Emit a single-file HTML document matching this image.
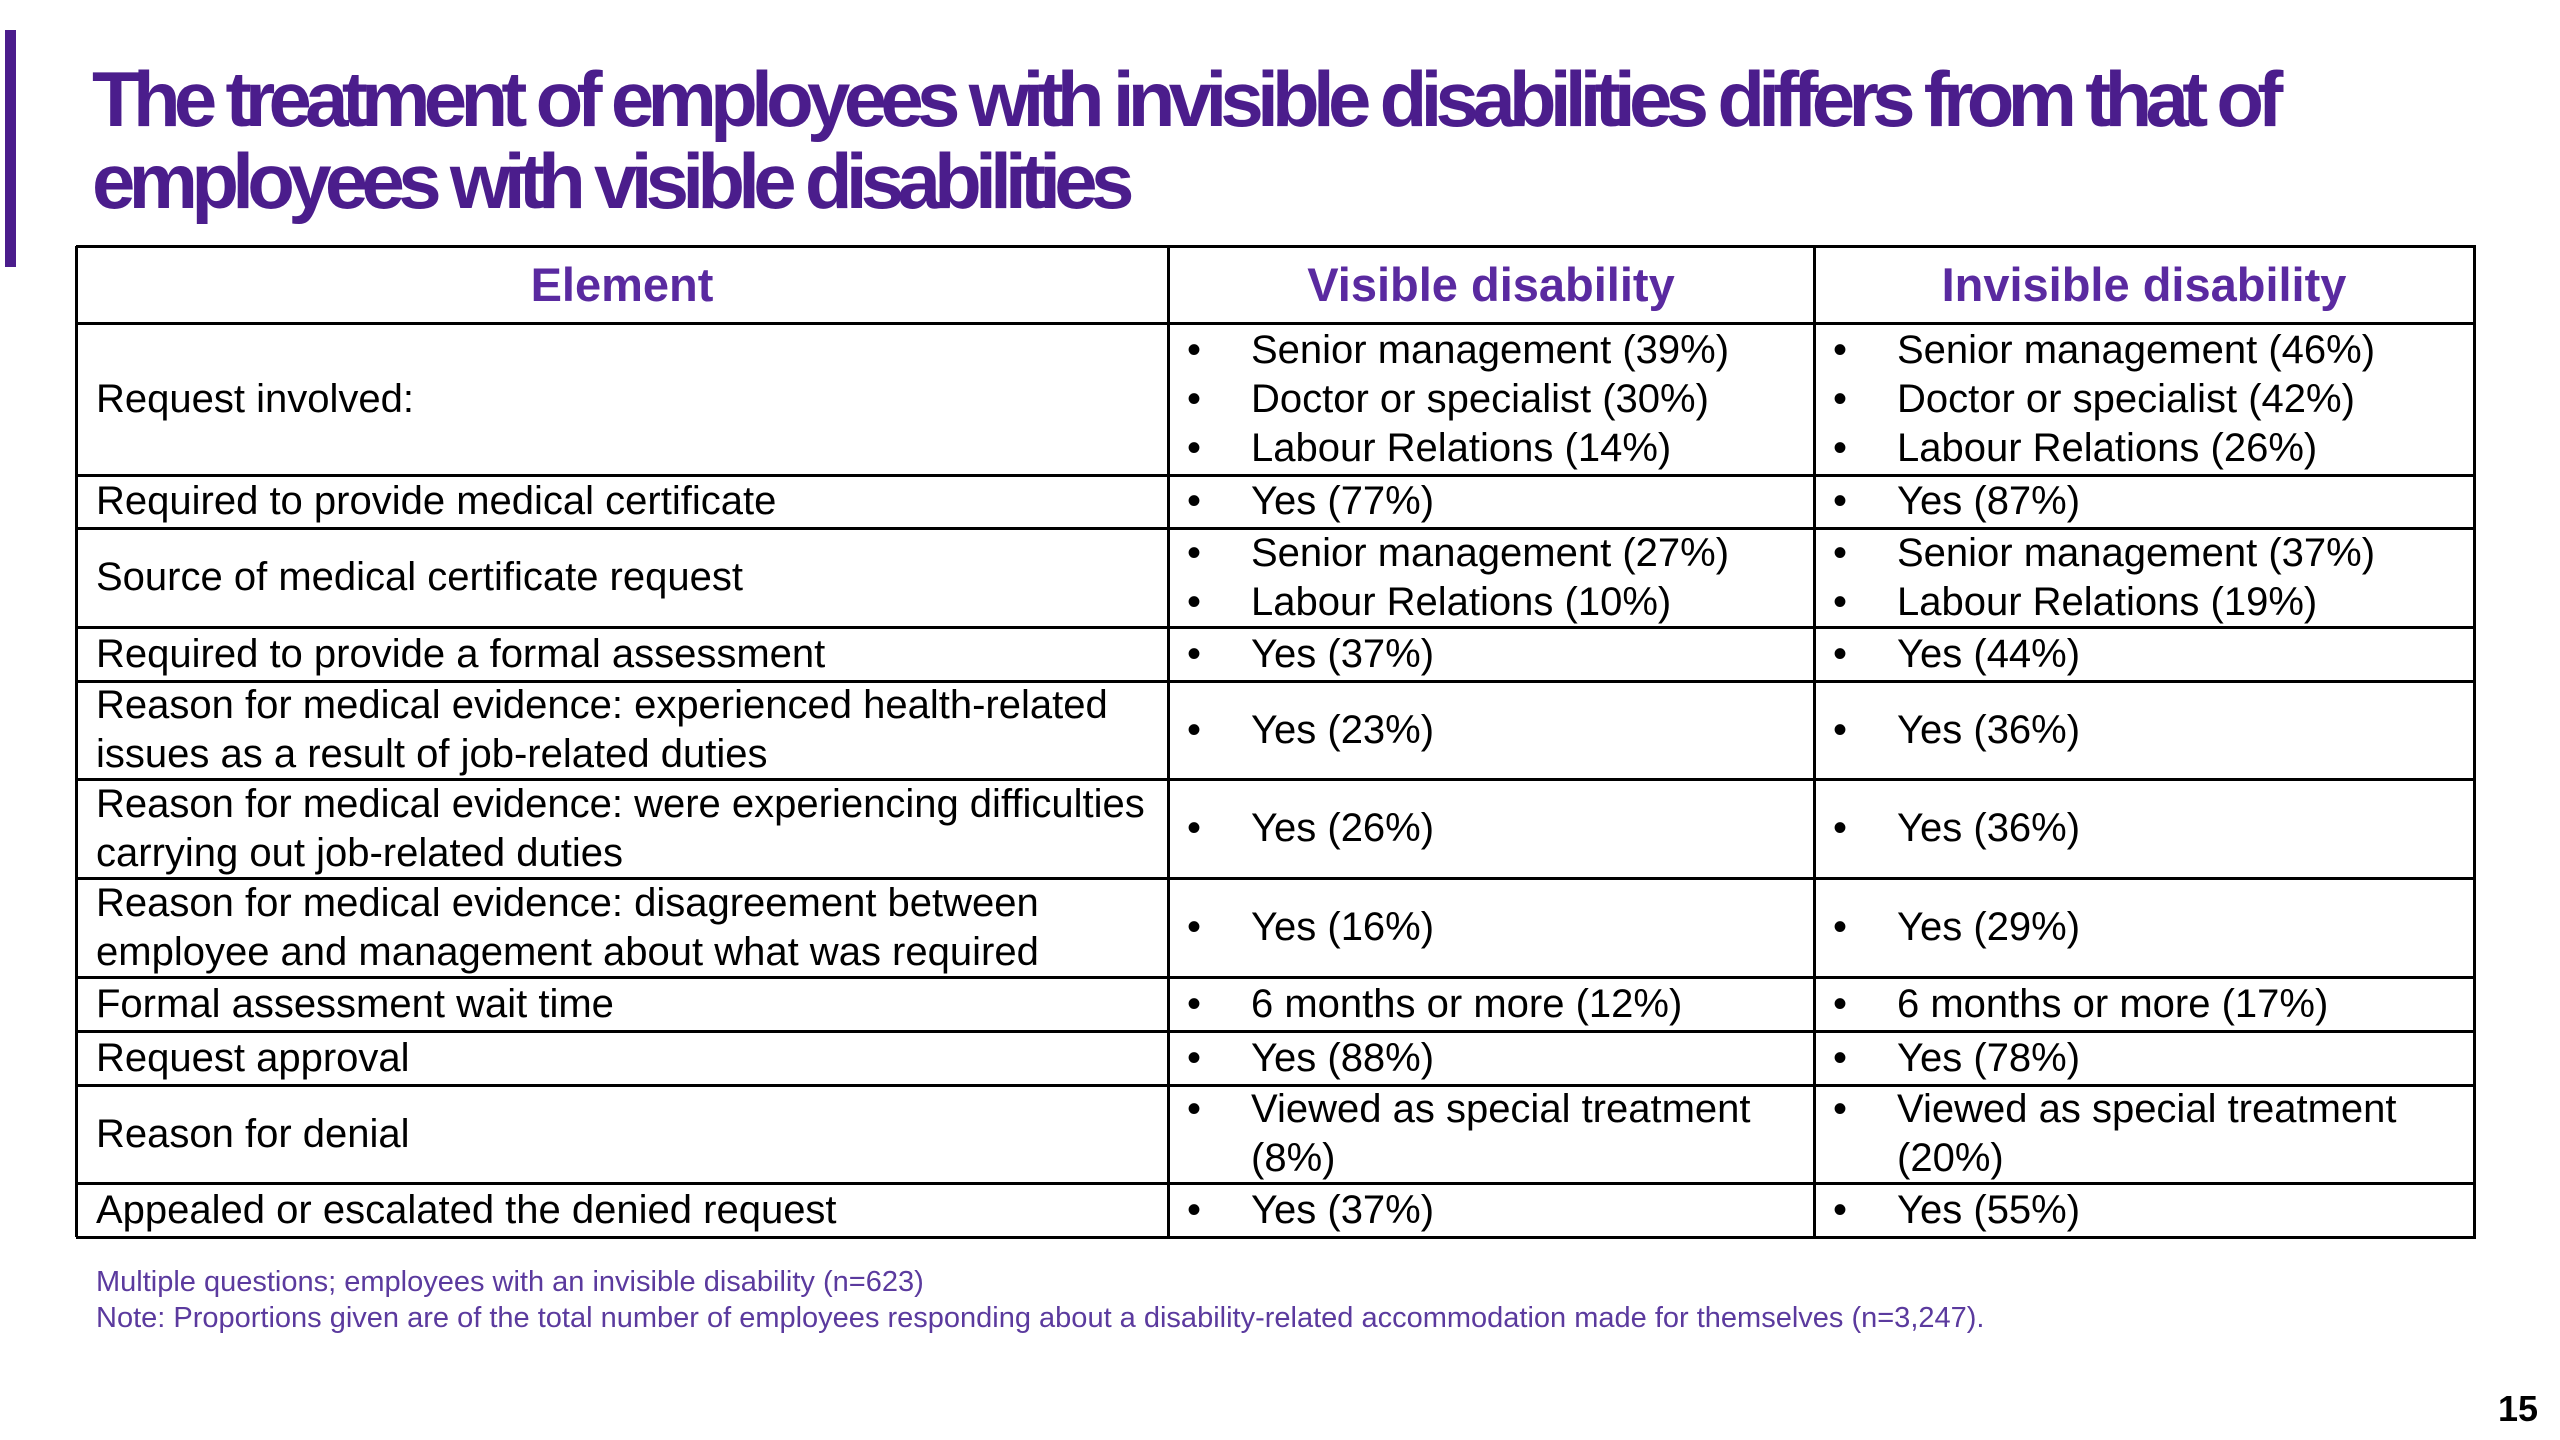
<!DOCTYPE html>
<html><head><meta charset="utf-8">
<style>
body{margin:0;width:2560px;height:1440px;background:#fff;position:relative;overflow:hidden;font-family:"Liberation Sans",Arial,sans-serif;}
.bar{position:absolute;left:5px;top:30px;width:11px;height:237px;background:#4b1d8c;}
.title{position:absolute;left:92px;top:58px;font-weight:bold;font-size:78px;line-height:82px;letter-spacing:-6.7px;color:#4b1d8c;white-space:nowrap;}
.cell{position:absolute;display:flex;align-items:center;box-sizing:border-box;font-size:40px;line-height:49px;color:#000;white-space:nowrap;}
.hd{font-weight:bold;font-size:47px;color:#5a2aa0;justify-content:center;}
.hl,.vl{position:absolute;background:#000;}
.b{position:relative;padding-left:83px;}
.b::before{content:"•";position:absolute;left:19px;}
.note{position:absolute;left:96px;font-size:29px;color:#5b3a9e;white-space:nowrap;}
.pg{position:absolute;left:2498px;top:1388px;font-size:36px;font-weight:bold;}
</style></head><body>
<div class="bar"></div>
<div class="title">The treatment of employees with invisible disabilities differs from that of<br>employees with visible disabilities</div>
<div id="tbl"></div>
<div class="note" style="top:1266px">Multiple questions; employees with an invisible disability (n=623)</div>
<div class="note" style="top:1302px">Note: Proportions given are of the total number of employees responding about a disability-related accommodation made for themselves (n=3,247).</div>
<div class="pg">15</div>
<script>
const rowEdges=[246,323,475,528,627,681,779,878,977,1031,1085,1183,1237];
const colEdges=[76,1168,1814,2474];
const headers=["Element","Visible disability","Invisible disability"];
const elements=["Request involved:","Required to provide medical certificate","Source of medical certificate request","Required to provide a formal assessment","Reason for medical evidence: experienced health-related<br>issues as a result of job-related duties","Reason for medical evidence: were experiencing difficulties<br>carrying out job-related duties","Reason for medical evidence: disagreement between<br>employee and management about what was required","Formal assessment wait time","Request approval","Reason for denial","Appealed or escalated the denied request"];
const visible=[["Senior management (39%)","Doctor or specialist (30%)","Labour Relations (14%)"],["Yes (77%)"],["Senior management (27%)","Labour Relations (10%)"],["Yes (37%)"],["Yes (23%)"],["Yes (26%)"],["Yes (16%)"],["6 months or more (12%)"],["Yes (88%)"],["Viewed as special treatment<br>(8%)"],["Yes (37%)"]];
const invisible=[["Senior management (46%)","Doctor or specialist (42%)","Labour Relations (26%)"],["Yes (87%)"],["Senior management (37%)","Labour Relations (19%)"],["Yes (44%)"],["Yes (36%)"],["Yes (36%)"],["Yes (29%)"],["6 months or more (17%)"],["Yes (78%)"],["Viewed as special treatment<br>(20%)"],["Yes (55%)"]];
const t=document.getElementById('tbl');
function cell(r,c,html,cls){
  const d=document.createElement('div');
  d.className='cell '+cls;
  d.style.left=colEdges[c]+'px';d.style.width=(colEdges[c+1]-colEdges[c])+'px';
  d.style.top=rowEdges[r]+'px';d.style.height=(rowEdges[r+1]-rowEdges[r])+'px';
  if(cls==='')d.style.paddingLeft='20px';
  d.innerHTML=html;
  
  
  t.appendChild(d);
}
headers.forEach((h,i)=>cell(0,i,h,'hd'));
const bl=a=>'<div>'+a.map(s=>'<div class="b">'+s+'</div>').join('')+'</div>';
elements.forEach((e,i)=>{cell(i+1,0,'<div>'+e+'</div>','');cell(i+1,1,bl(visible[i]),'bl');cell(i+1,2,bl(invisible[i]),'bl');});
rowEdges.forEach(y=>{const l=document.createElement('div');l.className='hl';l.style.left=colEdges[0]+'px';l.style.width=(colEdges[3]-colEdges[0]+2)+'px';l.style.top=(y-1)+'px';l.style.height='3px';


t.appendChild(l);});
colEdges.forEach(x=>{const l=document.createElement('div');l.className='vl';l.style.left=(x-1)+'px';l.style.width='3px';l.style.top=rowEdges[0]+'px';l.style.height=(rowEdges[12]-rowEdges[0])+'px';


t.appendChild(l);});
</script>
</body></html>
